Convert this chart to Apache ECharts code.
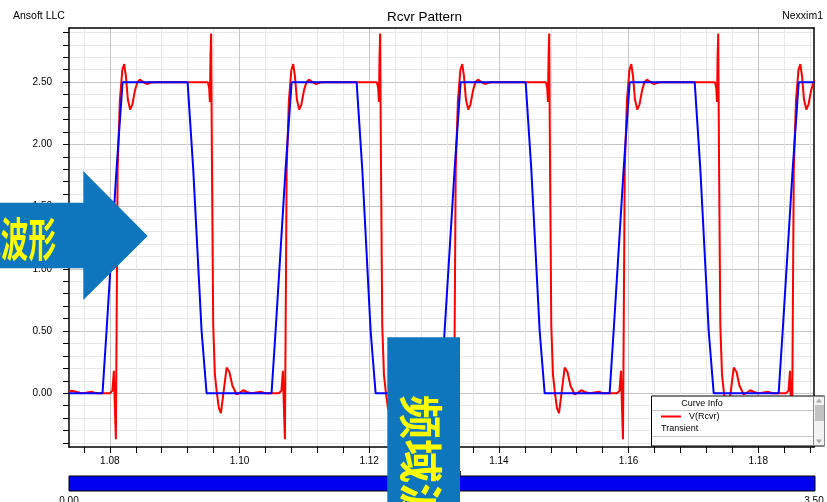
<!DOCTYPE html>
<html>
<head>
<meta charset="utf-8">
<script src="https://cdn.jsdelivr.net/npm/echarts@6/dist/echarts.min.js"></script>
<style>
  html, body { margin: 0; padding: 0; background: #fff; }
  #chart { width: 827px; height: 502px; }
</style>
</head>
<body>
<div id="chart"></div>
<script>
// tick values (ns / V)
const xMajorTicks = [1.08, 1.10, 1.12, 1.14, 1.16, 1.18];
const xMinorTicks = [1.076, 1.08, 1.084, 1.088, 1.092, 1.096, 1.1, 1.104, 1.108, 1.112, 1.116, 1.12,
  1.124, 1.128, 1.132, 1.136, 1.14, 1.144, 1.148, 1.152, 1.156, 1.16, 1.164, 1.168, 1.172, 1.176,
  1.18, 1.184, 1.188];
const yMajorTicks = [0, 0.5, 1.0, 1.5, 2.0, 2.5];
const yMinorTicks = [-0.4, -0.3, -0.2, -0.1, 0, 0.1, 0.2, 0.3, 0.4, 0.5, 0.6, 0.7, 0.8, 0.9, 1.0,
  1.1, 1.2, 1.3, 1.4, 1.5, 1.6, 1.7, 1.8, 1.9, 2.0, 2.1, 2.2, 2.3, 2.4, 2.5, 2.6, 2.7, 2.8, 2.9];

// V(Rcvr): [time ns, volts]
const redLead = [[1.07367,0.01],[1.07414,0.02],[1.07444,0.024],[1.07491,0.01],[1.07552,0],[1.07630,0.005],[1.07718,0.012],[1.07784,0]];
const redCycle1 = [[1.08000,0],[1.08039,0.02],[1.08062,0.18],[1.08077,-0.10],[1.08093,-0.37],[1.08105,0.60],[1.08120,1.80],[1.08154,2.35],[1.08193,2.60],[1.08221,2.645],[1.08247,2.55],[1.08278,2.36],[1.08313,2.28],[1.08347,2.32],[1.08386,2.43],[1.08424,2.50],[1.08463,2.52],[1.08517,2.50],[1.08576,2.484],[1.08633,2.497],[1.08694,2.50],[1.09512,2.50],[1.09532,2.45],[1.09543,2.34],[1.09552,2.70],[1.09562,2.89],[1.09574,1.90],[1.09594,0.55],[1.09620,0.15],[1.09651,0.00],[1.09682,-0.12],[1.09713,-0.16],[1.09752,0.00],[1.09801,0.206],[1.09844,0.17],[1.09890,0.06],[1.09955,-0.01],[1.10006,0.005],[1.10057,0.024],[1.10114,0.01],[1.10176,0.00],[1.10238,0.005],[1.10326,0.012],[1.10392,0.00]];
const redCycle2 = [[1.10607,0],[1.10646,0.02],[1.10669,0.18],[1.10684,-0.10],[1.10700,-0.37],[1.10712,0.60],[1.10727,1.80],[1.10761,2.35],[1.10800,2.60],[1.10828,2.645],[1.10854,2.55],[1.10885,2.36],[1.10920,2.28],[1.10954,2.32],[1.10993,2.43],[1.11031,2.50],[1.11070,2.52],[1.11124,2.50],[1.11183,2.484],[1.11240,2.497],[1.11301,2.50],[1.12119,2.50],[1.12139,2.45],[1.12150,2.34],[1.12159,2.70],[1.12169,2.89],[1.12181,1.90],[1.12201,0.55],[1.12227,0.15],[1.12258,0.00],[1.12289,-0.12],[1.12320,-0.16],[1.12359,0.00],[1.12408,0.206],[1.12451,0.17],[1.12497,0.06],[1.12562,-0.01],[1.12613,0.005],[1.12664,0.024],[1.12721,0.01],[1.12783,0.00],[1.12845,0.005],[1.12933,0.012],[1.12999,0.00]];
const redCycle3 = [[1.13214,0],[1.13253,0.02],[1.13276,0.18],[1.13291,-0.10],[1.13307,-0.37],[1.13319,0.60],[1.13334,1.80],[1.13368,2.35],[1.13407,2.60],[1.13435,2.645],[1.13461,2.55],[1.13492,2.36],[1.13527,2.28],[1.13561,2.32],[1.13600,2.43],[1.13638,2.50],[1.13677,2.52],[1.13731,2.50],[1.13790,2.484],[1.13847,2.497],[1.13908,2.50],[1.14726,2.50],[1.14746,2.45],[1.14757,2.34],[1.14766,2.70],[1.14776,2.89],[1.14788,1.90],[1.14808,0.55],[1.14834,0.15],[1.14865,0.00],[1.14896,-0.12],[1.14927,-0.16],[1.14966,0.00],[1.15015,0.206],[1.15058,0.17],[1.15104,0.06],[1.15169,-0.01],[1.15220,0.005],[1.15271,0.024],[1.15328,0.01],[1.15390,0.00],[1.15452,0.005],[1.15540,0.012],[1.15606,0.00]];
const redCycle4 = [[1.15821,0],[1.15860,0.02],[1.15883,0.18],[1.15898,-0.10],[1.15914,-0.37],[1.15926,0.60],[1.15941,1.80],[1.15975,2.35],[1.16014,2.60],[1.16042,2.645],[1.16068,2.55],[1.16099,2.36],[1.16134,2.28],[1.16168,2.32],[1.16207,2.43],[1.16245,2.50],[1.16284,2.52],[1.16338,2.50],[1.16397,2.484],[1.16454,2.497],[1.16515,2.50],[1.17333,2.50],[1.17353,2.45],[1.17364,2.34],[1.17373,2.70],[1.17383,2.89],[1.17395,1.90],[1.17415,0.55],[1.17441,0.15],[1.17472,0.00],[1.17503,-0.12],[1.17534,-0.16],[1.17573,0.00],[1.17622,0.206],[1.17665,0.17],[1.17711,0.06],[1.17776,-0.01],[1.17827,0.005],[1.17878,0.024],[1.17935,0.01],[1.17997,0.00],[1.18059,0.005],[1.18147,0.012],[1.18213,0.00]];
const redCycle5 = [[1.18428,0],[1.18467,0.02],[1.18490,0.18],[1.18505,-0.10],[1.18521,-0.37],[1.18533,0.60],[1.18548,1.80],[1.18582,2.35],[1.18621,2.60],[1.18649,2.645],[1.18675,2.55],[1.18706,2.36],[1.18741,2.28],[1.18775,2.32],[1.18814,2.43],[1.18852,2.50],[1.18891,2.52]];

// input pattern (blue trapezoids)
const blueWave = [
  [1.07367,0],[1.07887,0],[1.07949,0.5],[1.08103,1.8],[1.08196,2.5],[1.09199,2.5],[1.09286,1.8],[1.09415,0.5],[1.09492,0],
  [1.10494,0],[1.10556,0.5],[1.10710,1.8],[1.10803,2.5],[1.11806,2.5],[1.11893,1.8],[1.12022,0.5],[1.12099,0],
  [1.13101,0],[1.13163,0.5],[1.13317,1.8],[1.13410,2.5],[1.14413,2.5],[1.14500,1.8],[1.14629,0.5],[1.14706,0],
  [1.15708,0],[1.15770,0.5],[1.15924,1.8],[1.16017,2.5],[1.17020,2.5],[1.17107,1.8],[1.17236,0.5],[1.17313,0],
  [1.18315,0],[1.18377,0.5],[1.18531,1.8],[1.18624,2.5],[1.18900,2.5]
];

const redWave = redLead.concat(redCycle1, redCycle2, redCycle3, redCycle4, redCycle5);

const X_MIN = 1.0737, X_MAX = 1.1886;
const Y_MIN = -0.432, Y_MAX = 2.935;
const FONT = '"Liberation Sans", Arial, sans-serif';
const SLIDE_BLUE = '#0e76bc';

let chart = echarts.init(document.getElementById('chart'));

let option = {
  animation: false,
  textStyle: { fontFamily: FONT },
  title: [
    { text: 'Rcvr Pattern', left: 387, top: 10, padding: 0, textStyle: { fontSize: 13.5, fontWeight: 'normal', color: '#000' } },
    { text: 'Ansoft LLC', left: 13, top: 11, padding: 0, textStyle: { fontSize: 10.5, fontWeight: 'normal', color: '#000' } },
    { text: 'Nexxim1', right: 4, top: 11, padding: 0, textStyle: { fontSize: 10.5, fontWeight: 'normal', color: '#000' } }
  ],
  grid: { left: 69, top: 28, right: 13, bottom: 55, containLabel: false },
  legend: {
    data: ['V(Rcvr)'],
    left: 656, top: 407,
    icon: 'rect', itemWidth: 20, itemHeight: 2,
    selectedMode: false,
    z: 60,
    textStyle: { fontSize: 9, color: '#000', padding: [0, 0, 0, 3] }
  },
  xAxis: [
    {
      type: 'value', min: X_MIN, max: X_MAX, position: 'bottom',
      name: 'Time [ns]', nameLocation: 'middle', nameGap: 17,
      nameTextStyle: { fontSize: 10, color: '#000', verticalAlign: 'top' },
      axisLine: { show: true, onZero: false, lineStyle: { color: '#000', width: 1.5 } },
      axisTick: { show: true, length: 6, customValues: xMinorTicks, lineStyle: { color: '#000' } },
      axisLabel: { customValues: xMajorTicks, formatter: v => v.toFixed(2), fontSize: 10, color: '#000', margin: 9 },
      splitLine: { show: true, lineStyle: { color: '#e8e8e8', width: 1 } }
    },
    {
      type: 'value', min: X_MIN, max: X_MAX, position: 'top',
      axisLine: { show: true, onZero: false, lineStyle: { color: '#000', width: 1.5 } },
      axisTick: { show: false, customValues: xMajorTicks },
      axisLabel: { show: false },
      splitLine: { show: true, lineStyle: { color: '#c6c6c6', width: 1 } }
    }
  ],
  yAxis: [
    {
      type: 'value', min: Y_MIN, max: Y_MAX, position: 'left',
      axisLine: { show: true, onZero: false, lineStyle: { color: '#000', width: 1.5 } },
      axisTick: { show: true, length: 6, customValues: yMinorTicks, lineStyle: { color: '#000' } },
      axisLabel: { customValues: yMajorTicks, formatter: v => v.toFixed(2), fontSize: 10, color: '#000', margin: 17 },
      splitLine: { show: true, lineStyle: { color: '#e8e8e8', width: 1 } }
    },
    {
      type: 'value', min: Y_MIN, max: Y_MAX, position: 'right',
      axisLine: { show: true, onZero: false, lineStyle: { color: '#000', width: 1.5 } },
      axisTick: { show: false, customValues: yMajorTicks },
      axisLabel: { show: false },
      splitLine: { show: true, lineStyle: { color: '#c6c6c6', width: 1 } }
    }
  ],
  series: [
    {
      name: 'V(Rcvr)', type: 'line', xAxisIndex: 0, yAxisIndex: 0,
      data: redWave, symbol: 'none', z: 2,
      lineStyle: { color: '#ff0000', width: 2 },
      itemStyle: { color: '#ff0000' }
    },
    {
      name: 'Pattern', type: 'line', xAxisIndex: 0, yAxisIndex: 0,
      data: blueWave, symbol: 'none', z: 3,
      lineStyle: { color: '#0000ff', width: 2 },
      itemStyle: { color: '#0000ff' }
    }
  ],
  graphic: [
    // Curve Info box
    { type: 'rect', z: 50, shape: { x: 651.5, y: 396, width: 173, height: 50 },
      style: { fill: '#fff', stroke: '#000', lineWidth: 1 } },
    { type: 'text', z: 51, x: 702, y: 403.5,
      style: { text: 'Curve Info', font: '9px ' + FONT, fill: '#000', align: 'center', verticalAlign: 'middle', textAlign: 'center', textVerticalAlign: 'middle' } },
    { type: 'line', z: 51, shape: { x1: 652, y1: 410.5, x2: 813.5, y2: 410.5 }, style: { stroke: '#c8c8c8', lineWidth: 1 } },
    { type: 'text', z: 51, x: 661, y: 428.5,
      style: { text: 'Transient', font: '9px ' + FONT, fill: '#000', align: 'left', verticalAlign: 'middle', textAlign: 'left', textVerticalAlign: 'middle' } },
    { type: 'line', z: 51, shape: { x1: 652, y1: 436.5, x2: 813.5, y2: 436.5 }, style: { stroke: '#c8c8c8', lineWidth: 1 } },
    { type: 'rect', z: 51, shape: { x: 813.5, y: 396.5, width: 11, height: 49 }, style: { fill: '#f2f2f2', stroke: '#888', lineWidth: 1 } },
    { type: 'polygon', z: 52, shape: { points: [[816, 402.5], [819, 398.5], [822, 402.5]] }, style: { fill: '#a8a8a8' } },
    { type: 'rect', z: 52, shape: { x: 815, y: 405, width: 9, height: 16 }, style: { fill: '#c2c2c2' } },
    { type: 'polygon', z: 52, shape: { points: [[816, 439.5], [819, 443.5], [822, 439.5]] }, style: { fill: '#a8a8a8' } },

    // time-range bar under the plot
    { type: 'rect', z: 50, shape: { x: 69, y: 476, width: 746, height: 15 }, style: { fill: '#0000f0', stroke: '#000', lineWidth: 1 } },
    { type: 'text', z: 51, x: 69, y: 496.5,
      style: { text: '0.00', font: '10px ' + FONT, fill: '#000', align: 'center', verticalAlign: 'top', textAlign: 'center', textVerticalAlign: 'top' } },
    { type: 'text', z: 51, x: 814, y: 496.5,
      style: { text: '3.50', font: '10px ' + FONT, fill: '#000', align: 'center', verticalAlign: 'top', textAlign: 'center', textVerticalAlign: 'top' } },

    // slide overlays
    { type: 'polygon', z: 200,
      shape: { points: [[-5, 202.7], [83.3, 202.7], [83.3, 171], [147.7, 236], [83.3, 300], [83.3, 268.3], [-5, 268.3]] },
      style: { fill: SLIDE_BLUE } },
    { type: 'text', z: 201, x: 56, y: 239, scaleX: 0.6,
      style: { text: '时域波形', font: 'bold 46px "Noto Sans CJK SC"', fill: '#ffff00', align: 'right', verticalAlign: 'middle', textAlign: 'right', textVerticalAlign: 'middle' } },
    { type: 'rect', z: 200, shape: { x: 387.3, y: 337.3, width: 72.7, height: 170 }, style: { fill: SLIDE_BLUE } },
    { type: 'text', z: 201, x: 421, y: 395, rotation: -Math.PI / 2,
      style: { text: '频域波形', font: 'bold 44px "Noto Sans CJK SC"', fill: '#ffff00', align: 'left', verticalAlign: 'middle', textAlign: 'left', textVerticalAlign: 'middle' } }
  ]
};

chart.setOption(option);
window.addEventListener('resize', () => chart.resize());
</script>
</body>
</html>
